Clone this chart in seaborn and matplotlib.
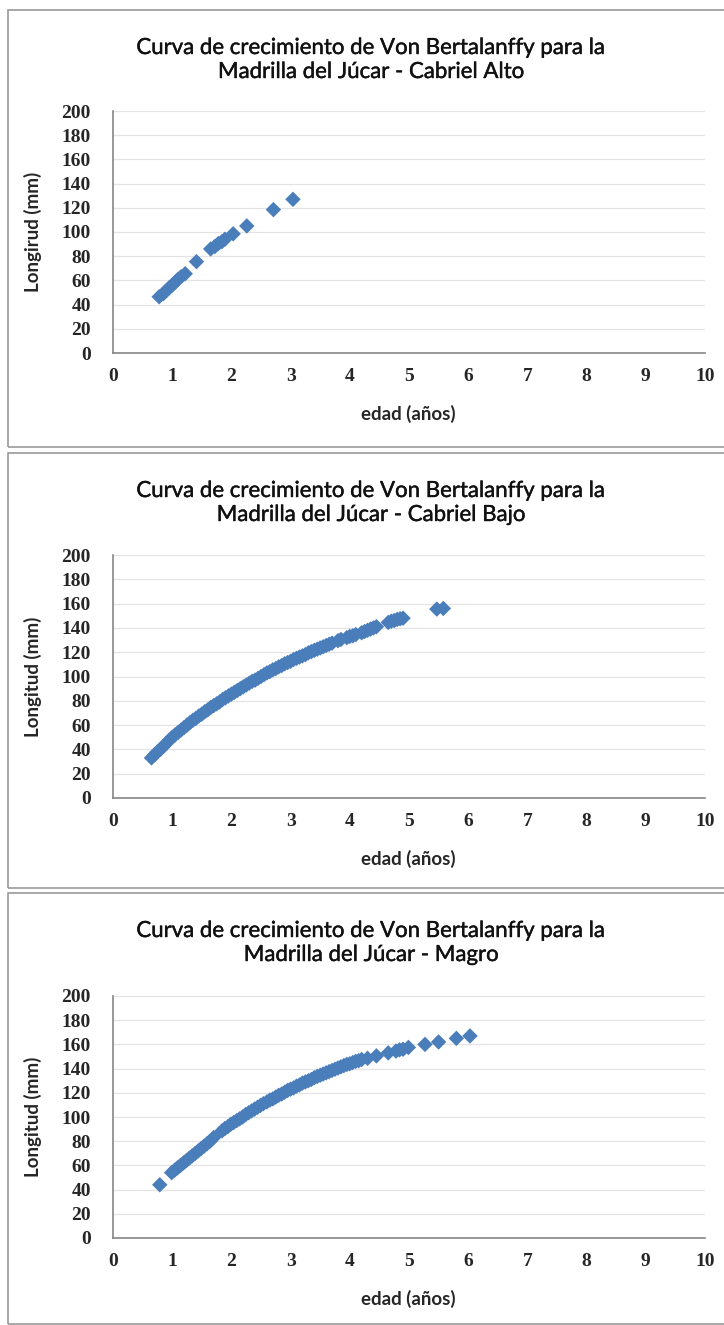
import numpy as np, pandas as pd, matplotlib
matplotlib.use('Agg')
import matplotlib.pyplot as plt
import matplotlib.patheffects as pe
import seaborn as sns
from matplotlib.patches import Rectangle

# Cabriel Alto
alto_edad=[0.78,0.85,0.9,0.95,1.0,1.05,1.1,1.15,1.22,1.41,1.65,1.72,1.78,1.84,1.89,2.03,2.26,2.71,3.04]
alto_long=[46.5,49,51.5,54,56,58.5,61,63,65.5,75.5,86,88,90.5,92,94,98.5,105,118.5,127]
# Cabriel Bajo
bajo_edad=[0.65,0.7,0.75,0.8,0.85,0.9,0.95,1.0,1.05,1.1,1.15,1.2,1.25,1.3,1.35,1.4,1.45,1.5,1.55,1.6,
           1.65,1.7,1.75,1.8,1.85,1.9,1.95,2.0,2.05,2.1,2.15,2.2,2.25,2.3,2.35,2.4,2.45,2.5,2.55,2.6,
           2.65,2.7,2.75,2.8,2.85,2.9,2.95,3.0,3.05,3.1,3.15,3.2,3.25,3.3,3.35,3.4,3.45,3.5,3.55,3.6,
           3.65,3.7,3.8,3.85,3.95,4.0,4.05,4.1,4.2,4.25,4.3,4.35,4.4,4.45,4.65,4.7,4.75,4.8,4.85,4.9,5.47,5.58]
bajo_long=[33,35.5,38,40,42.5,45,47.5,50,52,54,56,58,60,62,64,65.5,67.5,69,71,72.5,
           74.5,76,77.5,79,81,82.5,84,85.5,87,88.5,90,91.5,93,94.5,96,97,98.5,100,101.5,103,
           104,105.5,106.5,108,109,110.5,111.5,112.5,114,115,116,117,118,119.5,120.5,121.5,122.5,123.5,124.5,125.5,
           126.5,127.5,129.5,130.5,132,133,133.5,134.5,136,137,138,139,140,141,144.5,145.5,146,147,147.5,148,155.5,156]
# Magro
magro_edad=[0.79,0.99,1.04,1.09,1.14,1.19,1.24,1.29,1.34,1.39,1.44,1.49,1.54,1.59,1.64,1.70,
            1.84,1.89,1.94,1.99,2.04,2.09,2.14,2.19,2.24,2.29,2.34,2.39,2.44,2.49,2.54,2.6,2.65,2.7,2.75,2.8,
            2.85,2.9,2.95,3.0,3.05,3.1,3.15,3.2,3.25,3.3,3.35,3.4,3.45,3.5,3.55,3.6,3.65,3.7,3.75,3.8,
            3.85,3.9,3.95,4.0,4.05,4.1,4.15,4.2,4.3,4.45,4.65,4.78,4.84,4.9,4.99,5.27,5.5,5.8,6.03]
magro_long=[44,54,56,58,60,62,64,66,68,70,72,74,76,78,80,83,
            88.5,90.5,92,94,95.5,97,98.5,100,102,103.5,105,106.5,108,109.5,111,112.5,114,115,116.5,118,
            119,120.5,122,123,124,125.5,126.5,128,129,130,131,132.5,133.5,134.5,135.5,136.5,137.5,138.5,139.5,140.5,
            141.5,142.5,143.5,144,145,146,146.5,147.5,148.5,150.5,153,154.5,155.5,156,157.5,160,162,165,167]

titulos=['Curva de crecimiento de Von Bertalanffy para la\nMadrilla del Júcar - Cabriel Alto',
         'Curva de crecimiento de Von Bertalanffy para la\nMadrilla del Júcar - Cabriel Bajo',
         'Curva de crecimiento de Von Bertalanffy para la\nMadrilla del Júcar - Magro']
ylabs=['Longirud (mm)','Longitud (mm)','Longitud (mm)']
series=[(alto_edad,alto_long),(bajo_edad,bajo_long),(magro_edad,magro_long)]

sns.set_style('white')
plt.rcParams['font.family']=['Lato','DejaVu Sans']
W,H=724,1325
fig=plt.figure(figsize=(W/100,H/100),dpi=100)

# pixel layout of each chart: box top, box bottom, axis top(200), axis bottom(0)
boxes=[(10,447,111,353),(453,888,555,798),(893,1324,996,1238)]
axl,axr=113,705
blue='#4a7ebb'; grey='#868686'
tickfont=dict(family=['Liberation Serif','DejaVu Serif'],weight='bold',size=14)
for (bt,bb,at,ab),(ex,ly),tt,yl in zip(boxes,series,titulos,ylabs):
    fig.patches.append(Rectangle((8/W,1-bb/H),(730-8)/W,(bb-bt)/H,transform=fig.transFigure,
                                 fill=False,edgecolor='#9a9a9a',lw=1.2))
    ax=fig.add_axes([axl/W,1-ab/H,(axr-axl)/W,(ab-at)/H])
    sns.scatterplot(x=ex,y=ly,ax=ax,marker='D',s=62,color=blue,edgecolor='none',linewidth=0,zorder=3)
    ax.set_xlim(0,10); ax.set_ylim(0,200)
    ax.set_xticks(range(0,11)); ax.set_yticks(range(0,201,20))
    ax.yaxis.grid(True,color='#e4e4e4',lw=0.9); ax.set_axisbelow(True)
    for s in ['top','right']: ax.spines[s].set_visible(False)
    for s in ['left','bottom']: ax.spines[s].set_color(grey); ax.spines[s].set_linewidth(1.2)
    ax.tick_params(axis='x',direction='in',length=5,color=grey,width=1,pad=11)
    ax.tick_params(axis='y',direction='out',length=5,color=grey,width=1,pad=11)
    for lab in ax.get_xticklabels()+ax.get_yticklabels(): lab.set_fontproperties(tickfont)
    ax.set_xlabel('edad (años)',fontsize=13.5,fontweight='bold')
    ax.set_ylabel(yl,fontsize=13.5,fontweight='bold')
    ax.xaxis.set_label_coords(0.498,-0.215)
    ax.yaxis.set_label_coords(-0.12,0.5)
    fig.text(372/W,1-(bt+50)/H,tt,ha='center',va='center',fontsize=16,linespacing=1.25,color='#111111',
             path_effects=[pe.withStroke(linewidth=0.3,foreground='#111111')])

fig.savefig('out.png',dpi=100)
